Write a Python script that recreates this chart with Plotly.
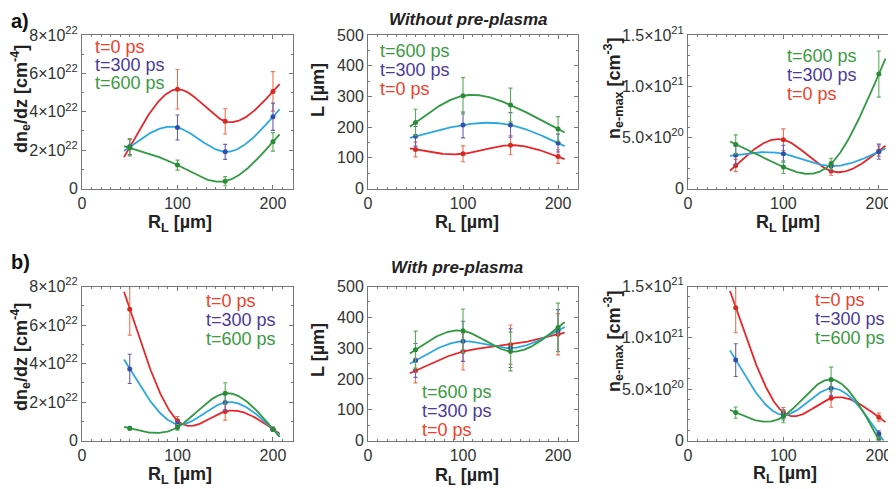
import numpy as np
import plotly.graph_objects as go

# The page body has an 8 px margin; the figure is sized to fill the window exactly.
OFF = 8
W, H = 896 - OFF, 489 - OFF

# ---------------- data ----------------
R_L = [50, 100, 150, 200]
series_names = ["t=0 ps", "t=300 ps", "t=600 ps"]

# a) Without pre-plasma
a_dn_t0 = [2.17e22, 5.17e22, 3.50e22, 5.06e22]
a_dn_t0_err = [0.43e22, 1.03e22, 0.66e22, 1.03e22]
a_dn_t300 = [2.17e22, 3.18e22, 1.91e22, 3.74e22]
a_dn_t300_err = [0.40e22, 0.65e22, 0.39e22, 0.71e22]
a_dn_t600 = [2.12e22, 1.22e22, 0.38e22, 2.43e22]
a_dn_t600_err = [0.43e22, 0.26e22, 0.24e22, 0.48e22]

a_L_t0 = [127, 113, 141, 104]
a_L_t0_err = [24, 26, 31, 22]
a_L_t300 = [170, 207, 207, 148]
a_L_t300_err = [32, 42, 40, 29]
a_L_t600 = [215, 302, 272, 194]
a_L_t600_err = [43, 59, 55, 40]

a_n_t0 = [2.25e20, 4.77e20, 1.70e20, 3.66e20]
a_n_t0_err = [0.60e20, 1.06e20, 0.40e20, 0.50e20]
a_n_t300 = [3.27e20, 3.40e20, 2.19e20, 3.60e20]
a_n_t300_err = [0.90e20, 0.82e20, 0.40e20, 0.74e20]
a_n_t600 = [4.31e20, 2.09e20, 2.42e20, 11.18e20]
a_n_t600_err = [0.93e20, 0.62e20, 0.54e20, 2.25e20]

# b) With pre-plasma
b_dn_t0 = [6.82e22, 1.03e22, 1.51e22, 0.59e22]
b_dn_t0_err = [1.35e22, 0.22e22, 0.45e22, 0.10e22]
b_dn_t300 = [3.72e22, 0.85e22, 1.98e22, 0.59e22]
b_dn_t300_err = [0.76e22, 0.15e22, 0.40e22, 0.10e22]
b_dn_t600 = [0.63e22, 0.68e22, 2.45e22, 0.59e22]
b_dn_t600_err = [0.10e22, 0.15e22, 0.55e22, 0.10e22]

b_L_t0 = [227, 289, 311, 345]
b_L_t0_err = [40, 60, 64, 67]
b_L_t300 = [260, 322, 300, 357]
b_L_t300_err = [55, 65, 63, 68]
b_L_t600 = [295, 356, 289, 367]
b_L_t600_err = [60, 71, 63, 79]

b_n_t0 = [12.94e20, 2.72e20, 4.11e20, 2.27e20]
b_n_t0_err = [2.45e20, 0.50e20, 0.87e20, 0.40e20]
b_n_t300 = [7.83e20, 2.49e20, 5.08e20, 0.65e20]
b_n_t300_err = [1.60e20, 0.50e20, 0.70e20, 0.30e20]
b_n_t600 = [2.72e20, 2.33e20, 5.95e20, 0.06e20]
b_n_t600_err = [0.55e20, 0.60e20, 1.20e20, 0.20e20]

# tick labels
x_tickvals = [0, 100, 200]
x_ticktext = ["0", "100", "200"]
dn_tickvals = [0, 2e22, 4e22, 6e22, 8e22]
dn_ticktext = ["0", "2×10<sup>22</sup>", "4×10<sup>22</sup>", "6×10<sup>22</sup>", "8×10<sup>22</sup>"]
L_tickvals = [0, 100, 200, 300, 400, 500]
L_ticktext = ["0", "100", "200", "300", "400", "500"]
n_tickvals = [0, 5e20, 1e21, 1.5e21]
n_ticktext = ["0", "5.0×10<sup>20</sup>", "1.0×10<sup>21</sup>", "1.5×10<sup>21</sup>"]

# ---------------- styles ----------------
FONT = "Liberation Sans"
LINE_COL = ["#e8262a", "#2aa8e2", "#2f9a40"]
MK_COL = ["#d42a22", "#3050a8", "#2a8a35"]
ERR_COL = ["#f07050", "#6a5cb8", "#5aac5a"]
TXT_COL = ["#f0402a", "#4a3a9a", "#3a9a40"]
AX_COL = "#777777"


def natural_spline(xk, yk, xq):
    """Natural cubic spline through the measured points (fit curve)."""
    xk = np.asarray(xk, float)
    yk = np.asarray(yk, float)
    n = len(xk)
    h = np.diff(xk)
    A = np.zeros((n, n))
    rhs = np.zeros(n)
    A[0, 0] = 1.0
    A[-1, -1] = 1.0
    for i in range(1, n - 1):
        A[i, i - 1] = h[i - 1]
        A[i, i] = 2 * (h[i - 1] + h[i])
        A[i, i + 1] = h[i]
        rhs[i] = 6 * ((yk[i + 1] - yk[i]) / h[i] - (yk[i] - yk[i - 1]) / h[i - 1])
    M = np.linalg.solve(A, rhs)
    out = np.empty_like(xq)
    for j, xv in enumerate(xq):
        i = int(np.clip(np.searchsorted(xk, xv) - 1, 0, n - 2))
        x0, x1 = xk[i], xk[i + 1]
        hh = x1 - x0
        a = (x1 - xv) / hh
        b = (xv - x0) / hh
        out[j] = (a * yk[i] + b * yk[i + 1]
                  + ((a ** 3 - a) * M[i] + (b ** 3 - b) * M[i + 1]) * hh * hh / 6.0)
    return out


panels = [
    ([a_dn_t0, a_dn_t300, a_dn_t600], [a_dn_t0_err, a_dn_t300_err, a_dn_t600_err],
     dn_tickvals, dn_ticktext, [0, 8e22], 1e22),
    ([a_L_t0, a_L_t300, a_L_t600], [a_L_t0_err, a_L_t300_err, a_L_t600_err],
     L_tickvals, L_ticktext, [0, 500], 50),
    ([a_n_t0, a_n_t300, a_n_t600], [a_n_t0_err, a_n_t300_err, a_n_t600_err],
     n_tickvals, n_ticktext, [0, 1.5e21], 1e20),
    ([b_dn_t0, b_dn_t300, b_dn_t600], [b_dn_t0_err, b_dn_t300_err, b_dn_t600_err],
     dn_tickvals, dn_ticktext, [0, 8e22], 1e22),
    ([b_L_t0, b_L_t300, b_L_t600], [b_L_t0_err, b_L_t300_err, b_L_t600_err],
     L_tickvals, L_ticktext, [0, 500], 50),
    ([b_n_t0, b_n_t300, b_n_t600], [b_n_t0_err, b_n_t300_err, b_n_t600_err],
     n_tickvals, n_ticktext, [0, 1.5e21], 1e20),
]

# pixel boxes in window coordinates (left, right, top, bottom)
col_x = [(82, 293), (368, 578), (688, 896)]
row_y = [(35, 188.5), (286.5, 440.5)]
x_ranges = [[0, 221], [0, 221], [0, 218]]


def px(x):
    return (x - OFF) / W


def py(y):
    return 1 - (y - OFF) / H


fig = go.Figure()
layout = dict(
    width=W, height=H, margin=dict(l=0, r=0, t=0, b=0, autoexpand=False),
    paper_bgcolor="white", plot_bgcolor="white", showlegend=False,
    font=dict(family=FONT, color="#333333"),
)

xfit = np.linspace(44, 207, 240)

for i, (vals, errs, ytv, ytt, yr, ymin) in enumerate(panels):
    r, c = divmod(i, 3)
    n = i + 1
    xs = "x" if n == 1 else f"x{n}"
    ys = "y" if n == 1 else f"y{n}"
    l, rr = col_x[c]
    t, b = row_y[r]
    common = dict(
        showline=True, linecolor=AX_COL, linewidth=1, mirror="allticks",
        ticks="inside", ticklen=4, tickcolor=AX_COL, automargin=False,
        showgrid=False, zeroline=False,
        tickfont=dict(family=FONT, size=16, color="#333333"),
    )
    xa = dict(
        domain=[max(px(l), 0.0), min(px(rr), 1.0)], anchor=ys, range=x_ranges[c],
        tickmode="array", tickvals=x_tickvals, ticktext=x_ticktext,
        minor=dict(tickmode="linear", tick0=0, dtick=10, ticks="inside", ticklen=2, tickcolor=AX_COL),
        **common,
    )
    ya = dict(
        domain=[py(b), py(t)], anchor=xs, range=yr,
        tickmode="array", tickvals=ytv, ticktext=ytt,
        minor=dict(tickmode="linear", tick0=0, dtick=ymin, ticks="inside", ticklen=2, tickcolor=AX_COL),
        **common,
    )
    layout["xaxis" if n == 1 else f"xaxis{n}"] = xa
    layout["yaxis" if n == 1 else f"yaxis{n}"] = ya

    for k in range(3):
        fig.add_trace(go.Scatter(
            x=xfit, y=natural_spline(R_L, vals[k], xfit), mode="lines", xaxis=xs, yaxis=ys,
            line=dict(color=LINE_COL[k], width=1.8), hoverinfo="skip",
        ))
        fig.add_trace(go.Scatter(
            x=R_L, y=vals[k], mode="markers", xaxis=xs, yaxis=ys,
            marker=dict(color=MK_COL[k], size=5),
            error_y=dict(type="data", array=errs[k], color=ERR_COL[k], thickness=1.1, width=2),
            name=series_names[k],
        ))

ann = []


def txt(x, y, s, size, color="#222222", xanchor="center", yanchor="middle", bold=False,
        italic=False, angle=0):
    if bold:
        s = f"<b>{s}</b>"
    if italic:
        s = f"<i>{s}</i>"
    ann.append(dict(
        x=px(x), y=py(y), xref="paper", yref="paper", text=s, showarrow=False,
        xanchor=xanchor, yanchor=yanchor, textangle=angle,
        font=dict(family=FONT, size=size, color=color),
    ))


# panel labels and titles
txt(9, 21, "a)", 20, "#111111", xanchor="left", bold=True)
txt(9, 262, "b)", 20, "#111111", xanchor="left", bold=True)
txt(468, 19, "Without pre-plasma", 17, "#222222", bold=True, italic=True)
txt(457, 267, "With pre-plasma", 17, "#222222", bold=True, italic=True)

# axis titles
xt = "R<sub>L</sub> [µm]"
for (cx, cy) in [(180, 223), (467, 223), (788, 223), (180, 475), (467, 476), (785, 474)]:
    txt(cx, cy, xt, 18, "#222222", bold=True)
dn_title = "dn<sub>e</sub>/dz [cm<sup>-4</sup>]"
L_title = "L [µm]"
n_title = "n<sub>e-max</sub> [cm<sup>-3</sup>]"
txt(20, 99, dn_title, 18, "#222222", bold=True, angle=-90)
txt(20, 357, dn_title, 18, "#222222", bold=True, angle=-90)
txt(318, 90, L_title, 18, "#222222", bold=True, angle=-90)
txt(318, 350, L_title, 18, "#222222", bold=True, angle=-90)
txt(613, 88, n_title, 18, "#222222", bold=True, angle=-90)
txt(613, 341, n_title, 18, "#222222", bold=True, angle=-90)

# in-plot legends (series order indices)
legend_specs = [
    (93, [(0, 47), (1, 65), (2, 83)]),
    (378, [(2, 51), (1, 70), (0, 89)]),
    (785, [(2, 56), (1, 75), (0, 94)]),
    (204, [(0, 301), (1, 320), (2, 339)]),
    (420, [(2, 392), (1, 411), (0, 430)]),
    (813, [(0, 300), (1, 319), (2, 338)]),
]
for lx, items in legend_specs:
    for k, ly in items:
        txt(lx, ly, series_names[k], 18, TXT_COL[k], xanchor="left")

layout["annotations"] = ann
fig.update_layout(**layout)
fig.write_html("out.html")
